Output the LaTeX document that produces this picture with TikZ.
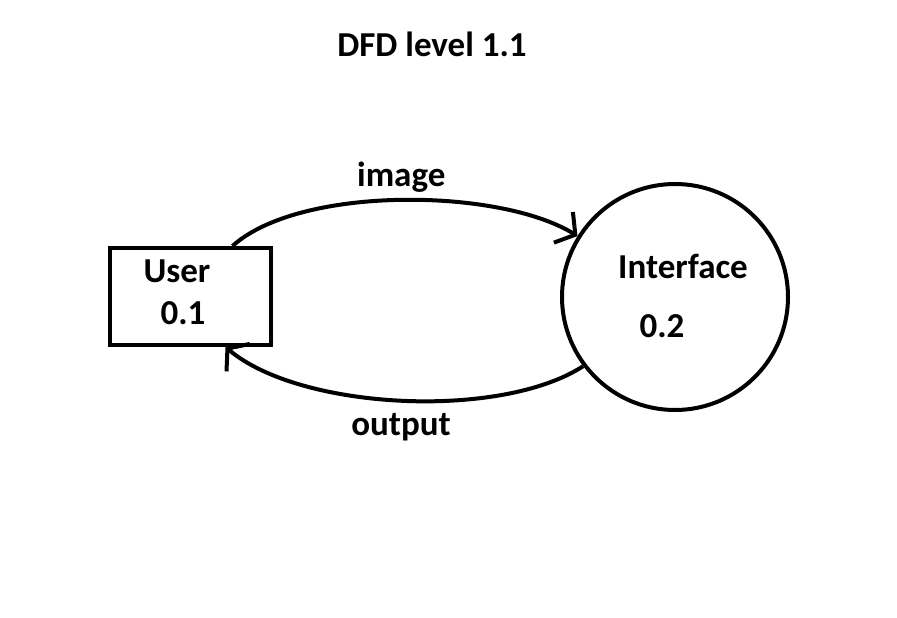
\documentclass[tikz,border=0pt]{standalone}
\usepackage{fontspec}
\setmainfont{Carlito}
\usetikzlibrary{arrows.meta,positioning}

\begin{document}
\begin{tikzpicture}[x=1pt, y=-1pt, line width=4pt,
    font=\fontsize{35}{40}\selectfont\bfseries,
    flow/.style={-{Straight Barb[length=14pt,width=36pt,line width=4pt]}}]
  \useasboundingbox (0,0) rectangle (897,618);
  \node (title) at (432,44) {DFD level 1.1};
  \node (user)  [draw, minimum width=161pt, minimum height=97pt] at (190.5,296.5) {};
  \node (iface) [draw, circle, minimum size=226pt] at (675,297) {};
  \node (username) at (177,271) {User};
  \node (userid)   at (183,313) {0.1};
  \node (ifacename) at (683,266) {Interface};
  \node (ifaceid)   at (662,326) {0.2};
  \coordinate (userout) at ([xshift=42pt]user.north);
  \coordinate (userin)  at ([xshift=35pt]user.south);
  \draw[flow] (userout) .. controls (300,185) and (500,188) .. (iface.148)
    node [pos=0.5, above=2pt] (imagelbl) {image};
  \draw[flow] (iface.217) .. controls (500,420) and (300,410) .. (userin)
    node [pos=0.5, below=8pt] (outputlbl) {output};
\end{tikzpicture}
\end{document}
